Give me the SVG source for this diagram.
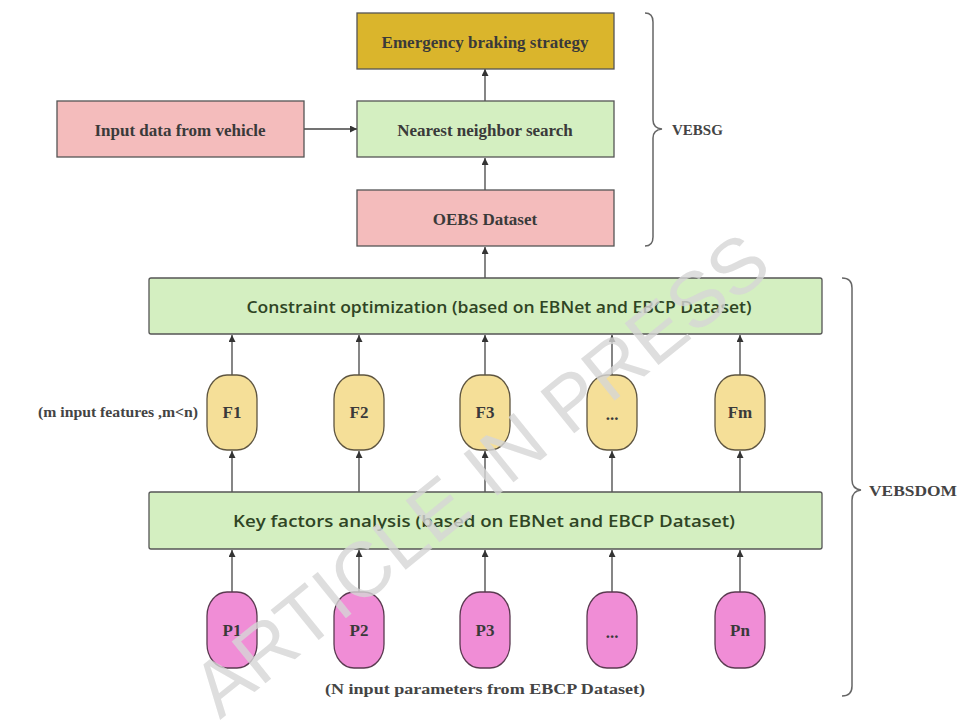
<svg xmlns="http://www.w3.org/2000/svg" width="963" height="720" viewBox="0 0 963 720">
<defs>
<marker id="ah" viewBox="0 0 10 10" refX="10" refY="5" markerWidth="7" markerHeight="7" markerUnits="userSpaceOnUse" orient="auto">
<path d="M0,0 L10,5 L0,10 z" fill="#333"/>
</marker>
<style>
.box{stroke:#555;stroke-width:1.3}
.gold{fill:#dab52c}
.pink{fill:#f4bcbc}
.green{fill:#d4efc1}
.fov{fill:#f5df98;stroke:#5e5540;stroke-width:1.3}
.pov{fill:#f08dd6;stroke:#5a3a50;stroke-width:1.3}
.st{font-family:"Liberation Serif","Times New Roman",serif;font-weight:bold;font-size:17px;fill:#3a3a3a;text-anchor:middle;dominant-baseline:central}
.ss{font-family:"Open Sans","Liberation Sans",sans-serif;font-weight:600;font-size:17px;fill:#2f4524;text-anchor:middle;dominant-baseline:central}
.lbl{font-family:"Liberation Serif","Times New Roman",serif;font-weight:bold;font-size:15px;fill:#444;dominant-baseline:central}
.ln{stroke:#444;stroke-width:1.3;fill:none}
.br{stroke:#666;stroke-width:1.5;fill:none}
</style>
</defs>
<rect width="963" height="720" fill="#fff"/>

<g id="connectors">
<line class="ln" x1="304" y1="129" x2="357" y2="129" marker-end="url(#ah)"/>
<line class="ln" x1="485" y1="101" x2="485" y2="69" marker-end="url(#ah)"/>
<line class="ln" x1="485" y1="190" x2="485" y2="158" marker-end="url(#ah)"/>
<line class="ln" x1="485" y1="278" x2="485" y2="247" marker-end="url(#ah)"/>
<line class="ln" x1="232" y1="375" x2="232" y2="335" marker-end="url(#ah)"/>
<line class="ln" x1="359" y1="375" x2="359" y2="335" marker-end="url(#ah)"/>
<line class="ln" x1="485" y1="375" x2="485" y2="335" marker-end="url(#ah)"/>
<line class="ln" x1="612" y1="375" x2="612" y2="335" marker-end="url(#ah)"/>
<line class="ln" x1="740" y1="375" x2="740" y2="335" marker-end="url(#ah)"/>
<line class="ln" x1="232" y1="492" x2="232" y2="451" marker-end="url(#ah)"/>
<line class="ln" x1="359" y1="492" x2="359" y2="451" marker-end="url(#ah)"/>
<line class="ln" x1="485" y1="492" x2="485" y2="451" marker-end="url(#ah)"/>
<line class="ln" x1="612" y1="492" x2="612" y2="451" marker-end="url(#ah)"/>
<line class="ln" x1="740" y1="492" x2="740" y2="451" marker-end="url(#ah)"/>
<line class="ln" x1="232" y1="592" x2="232" y2="550" marker-end="url(#ah)"/>
<line class="ln" x1="359" y1="592" x2="359" y2="550" marker-end="url(#ah)"/>
<line class="ln" x1="485" y1="592" x2="485" y2="550" marker-end="url(#ah)"/>
<line class="ln" x1="612" y1="592" x2="612" y2="550" marker-end="url(#ah)"/>
<line class="ln" x1="740" y1="592" x2="740" y2="550" marker-end="url(#ah)"/>
</g>

<g id="emergency">
<rect class="box gold" x="357" y="13" width="257" height="56"/>
<text class="st" x="485" y="42">Emergency braking strategy</text>
</g>
<g id="input-data">
<rect class="box pink" x="57" y="101" width="247" height="56"/>
<text class="st" x="180" y="130">Input data from vehicle</text>
</g>
<g id="nearest">
<rect class="box green" x="357" y="101" width="257" height="56"/>
<text class="st" x="485" y="130">Nearest neighbor search</text>
</g>
<g id="oebs">
<rect class="box pink" x="357" y="190" width="257" height="56"/>
<text class="st" x="485" y="219">OEBS Dataset</text>
</g>

<g id="vebsg">
<path class="br" d="M645,13 Q653,13 653,22 L653,120 Q653,128 662,129 Q653,130 653,138 L653,237 Q653,246 645,246"/>
<text class="lbl" x="672" y="130">VEBSG</text>
</g>

<g id="constraint">
<rect class="box green" x="149" y="278" width="673" height="56" rx="2"/>
<text class="ss" x="499" y="306" textLength="505" lengthAdjust="spacingAndGlyphs">Constraint optimization (based on EBNet and EBCP Dataset)</text>
</g>

<g id="features-label">
<text class="lbl" x="38" y="412" font-size="14" textLength="160" lengthAdjust="spacingAndGlyphs">(m input features ,m&lt;n)</text>
</g>
<g id="F1"><rect class="fov" x="207" y="375" width="50" height="75" rx="20" ry="24"/><text class="st" x="232" y="412" font-size="15">F1</text></g>
<g id="F2"><rect class="fov" x="334" y="375" width="50" height="75" rx="20" ry="24"/><text class="st" x="359" y="412" font-size="15">F2</text></g>
<g id="F3"><rect class="fov" x="460" y="375" width="50" height="75" rx="20" ry="24"/><text class="st" x="485" y="412" font-size="15">F3</text></g>
<g id="Fdots"><rect class="fov" x="587" y="375" width="50" height="75" rx="20" ry="24"/><text class="st" x="612" y="414" font-size="15">...</text></g>
<g id="Fm"><rect class="fov" x="715" y="375" width="50" height="75" rx="20" ry="24"/><text class="st" x="740" y="412" font-size="15">Fm</text></g>

<g id="key-factors">
<rect class="box green" x="149" y="492" width="673" height="57" rx="2"/>
<text class="ss" x="484" y="520" textLength="502" lengthAdjust="spacingAndGlyphs">Key factors analysis (based on EBNet and EBCP Dataset)</text>
</g>

<g id="P1"><rect class="pov" x="207" y="592" width="50" height="76" rx="20" ry="24"/><text class="st" x="232" y="630" font-size="15">P1</text></g>
<g id="P2"><rect class="pov" x="334" y="592" width="50" height="76" rx="20" ry="24"/><text class="st" x="359" y="630" font-size="15">P2</text></g>
<g id="P3"><rect class="pov" x="460" y="592" width="50" height="76" rx="20" ry="24"/><text class="st" x="485" y="630" font-size="15">P3</text></g>
<g id="Pdots"><rect class="pov" x="587" y="592" width="50" height="76" rx="20" ry="24"/><text class="st" x="612" y="632" font-size="15">...</text></g>
<g id="Pn"><rect class="pov" x="715" y="592" width="50" height="76" rx="20" ry="24"/><text class="st" x="740" y="630" font-size="15">Pn</text></g>

<g id="params-label">
<text class="lbl" x="485" y="689" text-anchor="middle" font-size="17" textLength="320" lengthAdjust="spacingAndGlyphs">(N input parameters from EBCP Dataset)</text>
</g>

<g id="vebsdom">
<path class="br" d="M842,278 Q852,278 852,288 L852,480 Q852,489 861,490 Q852,491 852,500 L852,686 Q852,696 842,696"/>
<text class="lbl" x="869" y="491" font-size="17" textLength="88" lengthAdjust="spacingAndGlyphs">VEBSDOM</text>
</g>

<g id="watermark">
<text x="0" y="0" transform="translate(220,720) rotate(-39)" font-family="Liberation Sans, Arial, sans-serif" font-size="78" fill="#d6d6d6" fill-opacity="0.8">ARTICLE IN PRESS</text>
</g>
</svg>
